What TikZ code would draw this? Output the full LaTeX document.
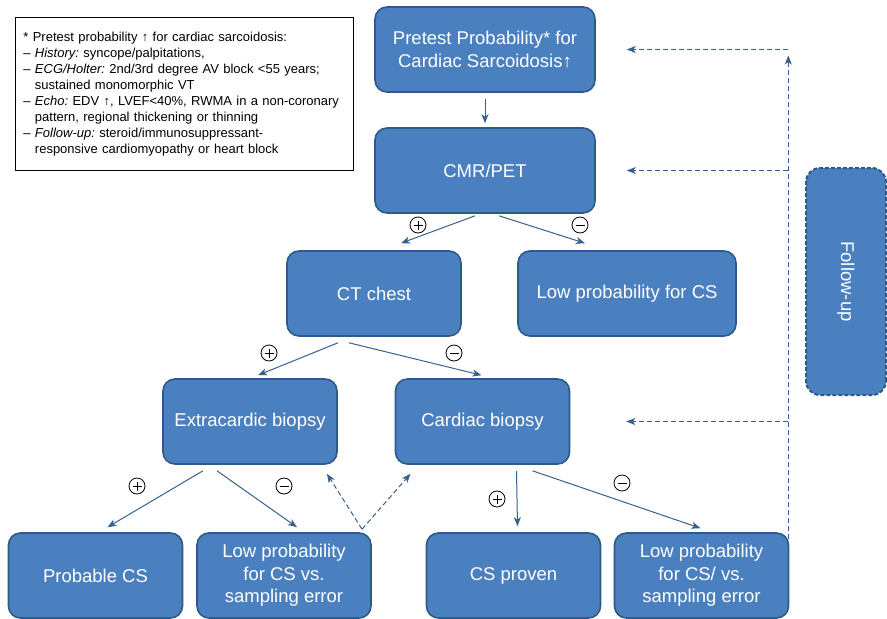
\documentclass[tikz,border=0pt]{standalone}
\usepackage{fontspec}
\setmainfont{Liberation Sans}
\usetikzlibrary{arrows.meta,calc}
\definecolor{boxfill}{HTML}{4A80BF}
\definecolor{boxline}{HTML}{2E5A88}
\definecolor{arrcol}{HTML}{36618F}
\begin{document}
\frenchspacing
\begin{tikzpicture}[x=1pt,y=-1pt,
  box/.style={draw=boxline, line width=1.6pt, fill=boxfill, rounded corners=12pt,
    text=white, font=\fontsize{18.5}{22.5}\selectfont, align=center, inner sep=0pt,
    minimum width=174pt, minimum height=85pt},
  fubox/.style={box, dash pattern=on 4pt off 2pt, line width=2pt, rounded corners=14pt},
  arr/.style={draw=arrcol, line width=1pt, -{Stealth[length=9pt,width=7pt,inset=2.5pt]}},
  darr/.style={arr, dash pattern=on 5pt off 3pt},
  sign/.style={circle, draw=black, line width=0.8pt, inner sep=0pt, minimum size=16pt},
  plus/.style={sign, path picture={
    \draw[line width=0.8pt] ([xshift=-4.5pt]path picture bounding box.center) -- ([xshift=4.5pt]path picture bounding box.center);
    \draw[line width=0.8pt] ([yshift=-4.5pt]path picture bounding box.center) -- ([yshift=4.5pt]path picture bounding box.center);}},
  minus/.style={sign, path picture={
    \draw[line width=0.8pt] ([xshift=-4.5pt]path picture bounding box.center) -- ([xshift=4.5pt]path picture bounding box.center);}},
  note/.style={draw=black, line width=0.8pt, fill=white, anchor=north west, align=left,
    font=\fontsize{13}{16}\selectfont, inner xsep=8pt, inner ysep=0pt,
    minimum width=338pt, minimum height=153pt, text width=322pt}
]
\useasboundingbox (0,0) rectangle (887,619);

% note
\node[note] (nt) at (15,17) {%
* Pretest probability ↑ for cardiac sarcoidosis:\\
– \textit{History:} syncope/palpitations,\\
– \textit{ECG/Holter:} 2nd/3rd degree AV block <55 years;\\
\phantom{– }sustained monomorphic VT\\
– \textit{Echo:} EDV ↑, LVEF<40\%, RWMA in a non-coronary\\
\phantom{– }pattern, regional thickening or thinning\\
– \textit{Follow-up:} steroid/immunosuppressant-\\
\phantom{– }responsive cardiomyopathy or heart block};

% boxes
\node[box, minimum width=220pt] (pre) at (485,49.5) {Pretest Probability* for\\Cardiac Sarcoidosis↑};
\node[box, minimum width=220pt] (cmr) at (485,170.5) {CMR/PET};
\node[box] (ct) at (374,293.5) {CT chest};
\node[box, minimum width=218pt] (low) at (627,293.5) {Low probability for CS};
\node[box] (ext) at (250,421.5) {Extracardic biopsy};
\node[box] (card) at (482.5,421.5) {Cardiac biopsy};
\node[box] (prob) at (95.5,575.5) {Probable CS};
\node[box] (lowa) at (284,575.5) {Low probability\\for CS vs.\\sampling error};
\node[box] (csp) at (513.5,575.5) {CS proven};
\node[box] (lowb) at (701.5,575.5) {Low probability\\for CS/ vs.\\sampling error};
\node[fubox, rotate=-90, minimum width=227pt, minimum height=80pt] (fu) at (846,281.5) {Follow-up};

% main arrows
\draw[arr] ($(pre.south)+(0,6)$) -- ($(cmr.north)+(0,-4)$);
\draw[arr] ($(cmr.south)+(-10,2)$) -- ($(ct.north)+(27,-7)$);
\draw[arr] ($(cmr.south)+(14,2)$) -- ($(low.north)+(-42,-7)$);
\draw[arr] ($(ct.south)+(-36,6)$) -- ($(ext.north)+(8,-3)$);
\draw[arr] ($(ct.south)+(-25,6)$) -- ($(card.north)+(-1,-3)$);
\draw[arr] ($(ext.south)+(-47,6)$) -- ($(prob.north)+(12,-5)$);
\draw[arr] ($(ext.south)+(-33,6)$) -- ($(lowa.north)+(13,-5)$);
\draw[arr] ($(card.south)+(34,6)$) -- ($(csp.north)+(4,-6)$);
\draw[arr] ($(card.south)+(50,6)$) -- ($(lowb.north)+(-1,-4)$);

% signs
\node[plus] (s1) at (418,225) {};
\node[minus] (s2) at (580,225) {};
\node[plus] (s3) at (269,353) {};
\node[minus] (s4) at (454,353) {};
\node[plus] (s5) at (137,486) {};
\node[minus] (s6) at (284,486) {};
\node[plus] (s7) at (497,499) {};
\node[minus] (s8) at (622,483) {};

% dashed re-biopsy arrows
\coordinate (rb) at ($(lowa.north)+(78,-3)$);
\draw[darr] (rb) -- ($(ext.south)+(77,9)$);
\draw[darr] (rb) -- ($(card.south)+(-72,9)$);

% follow-up feedback
\coordinate (fbb) at ($(lowb.north east)+(-1,7)$);
\coordinate (fbt) at ($(fbb|-pre.east)$);
\coordinate (fbc) at ($(fbb|-cmr.east)$);
\coordinate (fbd) at ($(fbb|-card.east)$);
\draw[darr] (fbb) -- ($(fbt)+(0,6)$);
\draw[darr] (fbt) -- ($(pre.east)+(31,0)$);
\draw[darr] (fbc) -- ($(cmr.east)+(31,0)$);
\draw[darr] (fbd) -- ($(card.east)+(56,0)$);
\end{tikzpicture}
\end{document}
